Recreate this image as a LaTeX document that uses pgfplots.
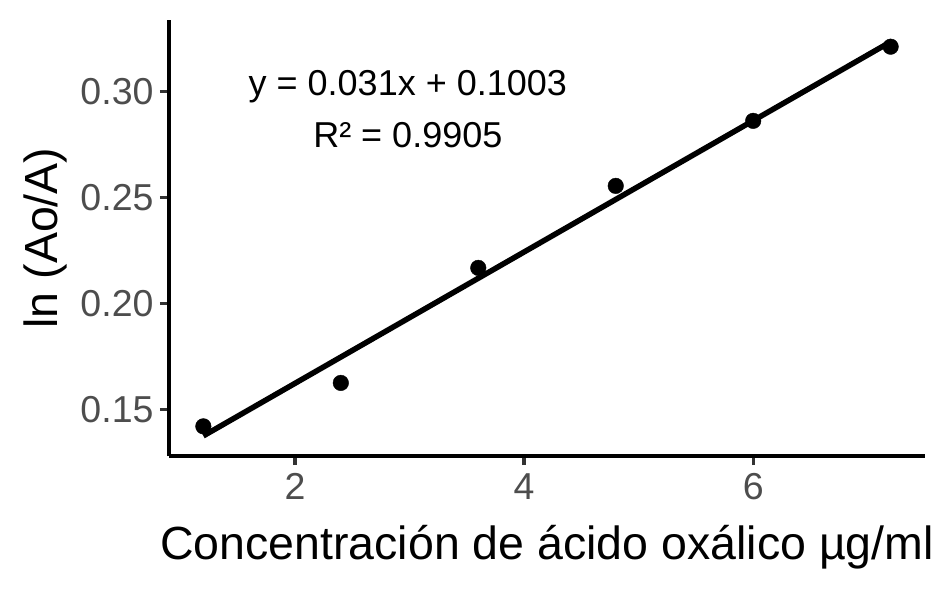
\documentclass[border=0pt]{standalone}
\usepackage{fontspec}
\setmainfont{Liberation Sans}
\usepackage{pgfplots}
\pgfplotsset{compat=1.18}
\definecolor{tickgrey}{HTML}{4D4D4D}
\definecolor{tickmark}{HTML}{333333}
\begin{document}
\begin{tikzpicture}
\begin{axis}[
  name=ax, at={(0,0)}, anchor=south west,
  scale only axis, width=756pt, height=436pt,
  xmin=0.9, xmax=7.5, ymin=0.128, ymax=0.3338,
  axis x line*=bottom, axis y line*=left,
  axis line style={line width=3.3pt, black},
  xtick={2,4,6}, ytick={0.15,0.20,0.25,0.30},
  yticklabel style={xshift=-3pt, /pgf/number format/fixed, /pgf/number format/fixed zerofill, /pgf/number format/precision=2},
  xticklabel style={yshift=-5pt},
  tick style={line width=3.3pt, tickmark}, major tick length=9pt, tick align=outside,
  ticklabel style={font=\fontsize{37.5}{44}\selectfont, text=tickgrey},
  /pgf/number format/assume math mode=true,
  xlabel={Concentración de ácido oxálico µg/ml}, ylabel={ln (Ao/A)},
  label style={font=\fontsize{46.5}{54}\selectfont},
  x label style={at={(axis description cs:0.5,-0.2385)}, anchor=base},
  y label style={at={(axis description cs:-0.148,0.5)}, anchor=base, rotate=0},
  clip=false,
]
\addplot[line width=5.5pt, black] coordinates {(1.2,0.1375) (7.2,0.3235)};
\addplot[only marks, mark=*, mark size=7.8pt, black] coordinates {
  (1.2,0.1420) (2.4,0.1625) (3.6,0.2168) (4.8,0.2555) (6.0,0.2862) (7.2,0.3212)};
\node[anchor=base, font=\fontsize{36}{42}\selectfont] at (axis cs:2.985,0.2980) {y = 0.031x + 0.1003};
\node[anchor=base, font=\fontsize{36}{42}\selectfont] at (axis cs:2.985,0.2734) {R² = 0.9905};
\end{axis}
\pgfresetboundingbox
\path[use as bounding box] (-169pt,-134pt) rectangle (775pt,456pt);
\end{tikzpicture}
\end{document}
